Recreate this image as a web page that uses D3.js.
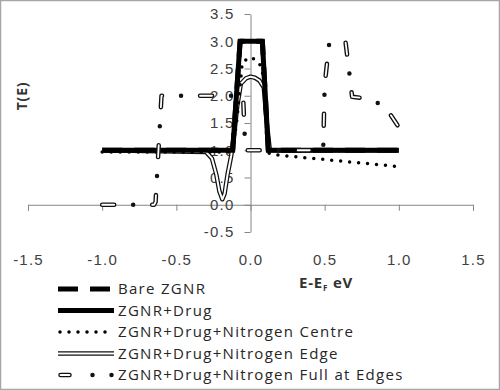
<!DOCTYPE html>
<html>
<head>
<meta charset="utf-8">
<script src="https://cdn.jsdelivr.net/npm/d3@7"></script>
<style>
  body { margin: 0; background: #fff; }
  svg { display: block; font-family: "Open Sans", "Liberation Sans", sans-serif; }
  .tick text { fill: #404040; font-size: 15px; letter-spacing: 1.2px; }
</style>
</head>
<body>
<svg width="500" height="390"></svg>
<script>
// tick labels
var xTicks = [-1.5, -1.0, -0.5, 0.0, 0.5, 1.0, 1.5];
var yTicks = [-0.5, 0.0, 0.5, 1.0, 1.5, 2.0, 2.5, 3.0, 3.5];

var seriesNames = ["Bare ZGNR", "ZGNR+Drug", "ZGNR+Drug+Nitrogen Centre",
    "ZGNR+Drug+Nitrogen Edge", "ZGNR+Drug+Nitrogen Full at Edges"];

// series (energy, transmission)
var bareE = [-1.0, -0.12, -0.07, 0.08, 0.12, 1.0];
var bareT = [1.0, 1.0, 3.0, 3.0, 1.0, 1.0];

var drugE = [-1.0, -0.12, -0.07, 0.08, 0.12, 1.0];
var drugT = [1.0, 1.0, 3.0, 3.0, 1.0, 1.0];

var centreE = [-1.0, -0.12, -0.09, -0.055, 0.0, 0.055, 0.08, 0.1, 0.12, 0.15, 1.0];
var centreT = [0.97, 0.97, 1.6, 2.62, 2.71, 2.62, 2.47, 1.7, 0.95, 0.92, 0.70];

var edgeE = [-1.0, -0.3, -0.26, -0.23, -0.21, -0.19, -0.175, -0.155, -0.13, -0.11, -0.09, -0.065, -0.03, 0.0, 0.03, 0.06, 0.09, 0.11, 0.13, 1.0];
var edgeT = [1.0, 0.97, 0.85, 0.55, 0.25, 0.1, 0.2, 0.55, 0.9, 1.3, 1.8, 2.22, 2.32, 2.35, 2.33, 2.28, 2.15, 1.5, 1.0, 1.0];

var fullE = [-1.0, -0.65, -0.64, -0.6, -0.05, -0.035, 0.49, 0.5, 0.53, 0.64, 0.665, 0.685, 0.75, 0.9, 1.0];
var fullT = [0.0, 0.0, 0.05, 2.0, 2.0, 1.0, 1.0, 2.2, 2.95, 3.0, 2.45, 1.98, 1.96, 1.83, 1.42];

var svg = d3.select("svg");

var x = d3.scaleLinear().domain([-1.5, 1.5]).range([28, 473]);
var y = d3.scaleLinear().domain([-0.5, 3.5]).range([232, 14]);

// frame
svg.append("rect")
    .attr("x", 0.5).attr("y", 0.5)
    .attr("width", 499).attr("height", 389)
    .attr("fill", "none")
    .attr("stroke", "#a6a6a6")
    .attr("stroke-width", 1.5);

// x axis sits at T = 0, labels placed low
var xAxis = svg.append("g")
    .attr("transform", "translate(0," + y(0) + ")")
    .call(d3.axisBottom(x).tickValues(xTicks).tickSize(6).tickFormat(d3.format(".1f")));
xAxis.select(".domain").attr("stroke", "#868686");
xAxis.selectAll(".tick line").attr("stroke", "#868686");
xAxis.selectAll(".tick text")
    .attr("y", 260 - y(0))
    .attr("dy", "0.35em")
    .text(function (d) { return d3.format(".1f")(d).replace("−", "-"); });

var yAxis = svg.append("g")
    .attr("transform", "translate(" + x(0) + ",0)")
    .call(d3.axisLeft(y).tickValues(yTicks).tickSize(6).tickSizeOuter(0).tickFormat(d3.format(".1f")));
yAxis.select(".domain").attr("stroke", "#868686");
yAxis.selectAll(".tick line").attr("stroke", "#868686");
yAxis.selectAll(".tick text")
    .attr("x", -16)
    .text(function (d) { return d3.format(".1f")(d).replace("−", "-"); });

// axis titles
svg.append("text")
    .attr("transform", "translate(27,96) rotate(-90)")
    .attr("text-anchor", "middle")
    .attr("font-weight", "bold")
    .attr("font-size", 14)
    .attr("letter-spacing", 0.8)
    .attr("fill", "#333")
    .text("T(E)");

var xt = svg.append("text")
    .attr("x", 299).attr("y", 288)
    .attr("font-weight", "bold")
    .attr("font-size", 15)
    .attr("letter-spacing", 0.8)
    .attr("fill", "#333");
xt.append("tspan").text("E-E");
xt.append("tspan").attr("font-size", 8).attr("dy", 3).text("F");
xt.append("tspan").attr("dy", -3).text(" eV");

function pts(es, ts) {
    return es.map(function (e, i) { return [e, ts[i]]; });
}

var line = d3.line()
    .x(function (d) { return x(d[0]); })
    .y(function (d) { return y(d[1]); });

var plot = svg.append("g").attr("fill", "none");

// bare ZGNR (dashed, under the drug line)
plot.append("path")
    .attr("d", line(pts(bareE, bareT)))
    .attr("stroke", "#000")
    .attr("stroke-width", 5)
    .attr("stroke-dasharray", "20,12");

// nitrogen edge: double line
var edgePath = line(pts(edgeE, edgeT));
plot.append("path").attr("d", edgePath)
    .attr("stroke", "#111").attr("stroke-width", 4.5).attr("stroke-linejoin", "round");
plot.append("path").attr("d", edgePath)
    .attr("stroke", "#fff").attr("stroke-width", 2).attr("stroke-linejoin", "round");

// drug
plot.append("path")
    .attr("d", line(pts(drugE, drugT)))
    .attr("stroke", "#000")
    .attr("stroke-width", 5)
    .attr("stroke-linejoin", "round");

// nitrogen centre: round dots
plot.append("path")
    .attr("d", line(pts(centreE, centreT)))
    .attr("stroke", "#000")
    .attr("stroke-width", 3.5)
    .attr("stroke-linecap", "round")
    .attr("stroke-dasharray", "0,9");

// full at edges: hollow dashes and black dots
var fullPath = line(pts(fullE, fullT));
plot.append("path").attr("d", fullPath)
    .attr("stroke", "#111").attr("stroke-width", 4.5)
    .attr("stroke-linecap", "round").attr("stroke-linejoin", "round")
    .attr("stroke-dasharray", "12,19,0,19");
plot.append("path").attr("d", fullPath)
    .attr("stroke", "#fff").attr("stroke-width", 1.8)
    .attr("stroke-linecap", "round").attr("stroke-linejoin", "round")
    .attr("stroke-dasharray", "12,38");

// legend
var legend = svg.append("g");
var ly = d3.scaleLinear().domain([0, 4]).range([289, 375]);

seriesNames.forEach(function (name, i) {
    var yy = ly(i);
    var g = legend.append("g").attr("fill", "none");
    if (i === 0) {
        g.append("line").attr("x1", 58).attr("x2", 110).attr("y1", yy).attr("y2", yy)
            .attr("stroke", "#000").attr("stroke-width", 5).attr("stroke-dasharray", "20,12");
    } else if (i === 1) {
        g.append("line").attr("x1", 58).attr("x2", 114).attr("y1", yy).attr("y2", yy)
            .attr("stroke", "#000").attr("stroke-width", 5);
    } else if (i === 2) {
        g.append("line").attr("x1", 60).attr("x2", 113).attr("y1", yy).attr("y2", yy)
            .attr("stroke", "#000").attr("stroke-width", 3.5)
            .attr("stroke-linecap", "round").attr("stroke-dasharray", "0,9");
    } else if (i === 3) {
        g.append("line").attr("x1", 58).attr("x2", 114).attr("y1", yy).attr("y2", yy)
            .attr("stroke", "#111").attr("stroke-width", 4.5);
        g.append("line").attr("x1", 58).attr("x2", 114).attr("y1", yy).attr("y2", yy)
            .attr("stroke", "#fff").attr("stroke-width", 2);
    } else {
        g.append("line").attr("x1", 60.5).attr("x2", 113).attr("y1", yy).attr("y2", yy)
            .attr("stroke", "#111").attr("stroke-width", 4.5).attr("stroke-linecap", "round")
            .attr("stroke-dasharray", "9,23,0,19,0,100");
        g.append("line").attr("x1", 60.5).attr("x2", 69.5).attr("y1", yy).attr("y2", yy)
            .attr("stroke", "#fff").attr("stroke-width", 1.8).attr("stroke-linecap", "round");
    }
    legend.append("text")
        .attr("x", 118).attr("y", yy)
        .attr("dy", "0.35em")
        .attr("font-size", 15)
        .attr("letter-spacing", 1.3)
        .attr("fill", "#262626")
        .text(name);
});
</script>
</body>
</html>
